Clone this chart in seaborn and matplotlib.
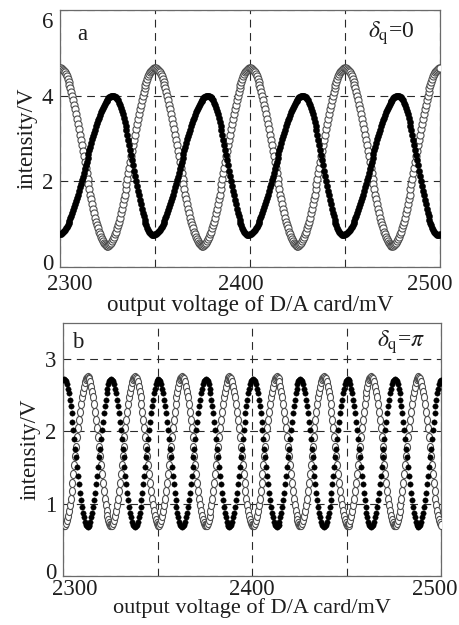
import numpy as np
import pandas as pd
import matplotlib
matplotlib.use('Agg')
import matplotlib.pyplot as plt
import matplotlib.transforms as mtransforms
from matplotlib.path import Path
import seaborn as sns

# D/A card output voltage (mV), sampled every 0.5 mV
voltage = np.arange(2300, 2500.5, 0.5)

# panel a (delta_q = 0): open circles
open_a = [
    4.65, 4.65, 4.63, 4.61, 4.58, 4.55, 4.50, 4.45, 4.39, 4.33, 4.25, 4.17, 4.09, 4.00, 3.90, 3.79, 3.69, 3.57, 3.46, 3.34, 3.22, 3.09, 2.96, 2.84, 2.71, 2.58, 2.44, 2.31, 2.19, 2.06, 1.93, 1.81, 1.69, 1.58, 1.46, 1.36, 1.25, 1.15, 1.06, 0.98, 0.90, 0.82, 0.76, 0.70, 0.65, 0.60, 0.57, 0.54, 0.52, 0.50, 0.50,
    0.50, 0.52, 0.54, 0.57, 0.60, 0.65, 0.70, 0.76, 0.82, 0.90, 0.98, 1.06, 1.15, 1.25, 1.36, 1.46, 1.58, 1.69, 1.81, 1.93, 2.06, 2.19, 2.31, 2.44, 2.58, 2.71, 2.84, 2.96, 3.09, 3.22, 3.34, 3.46, 3.57, 3.69, 3.79, 3.90, 4.00, 4.09, 4.17, 4.25, 4.33, 4.39, 4.45, 4.50, 4.55, 4.58, 4.61, 4.63, 4.65,
    4.65, 4.65, 4.63, 4.61, 4.58, 4.55, 4.50, 4.45, 4.39, 4.33, 4.25, 4.17, 4.09, 4.00, 3.90, 3.79, 3.69, 3.57, 3.46, 3.34, 3.22, 3.09, 2.96, 2.84, 2.71, 2.58, 2.44, 2.31, 2.19, 2.06, 1.93, 1.81, 1.69, 1.58, 1.46, 1.36, 1.25, 1.15, 1.06, 0.98, 0.90, 0.82, 0.76, 0.70, 0.65, 0.60, 0.57, 0.54, 0.52, 0.50, 0.50,
    0.50, 0.52, 0.54, 0.57, 0.60, 0.65, 0.70, 0.76, 0.82, 0.90, 0.98, 1.06, 1.15, 1.25, 1.36, 1.46, 1.58, 1.69, 1.81, 1.93, 2.06, 2.19, 2.31, 2.44, 2.58, 2.71, 2.84, 2.96, 3.09, 3.22, 3.34, 3.46, 3.57, 3.69, 3.79, 3.90, 4.00, 4.09, 4.17, 4.25, 4.33, 4.39, 4.45, 4.50, 4.55, 4.58, 4.61, 4.63, 4.65,
    4.65, 4.65, 4.63, 4.61, 4.58, 4.55, 4.50, 4.45, 4.39, 4.33, 4.25, 4.17, 4.09, 4.00, 3.90, 3.79, 3.69, 3.57, 3.46, 3.34, 3.22, 3.09, 2.96, 2.84, 2.71, 2.58, 2.44, 2.31, 2.19, 2.06, 1.93, 1.81, 1.69, 1.58, 1.46, 1.36, 1.25, 1.15, 1.06, 0.98, 0.90, 0.82, 0.76, 0.70, 0.65, 0.60, 0.57, 0.54, 0.52, 0.50, 0.50,
    0.50, 0.52, 0.54, 0.57, 0.60, 0.65, 0.70, 0.76, 0.82, 0.90, 0.98, 1.06, 1.15, 1.25, 1.36, 1.46, 1.58, 1.69, 1.81, 1.93, 2.06, 2.19, 2.31, 2.44, 2.58, 2.71, 2.84, 2.96, 3.09, 3.22, 3.34, 3.46, 3.57, 3.69, 3.79, 3.90, 4.00, 4.09, 4.17, 4.25, 4.33, 4.39, 4.45, 4.50, 4.55, 4.58, 4.61, 4.63, 4.65,
    4.65, 4.65, 4.63, 4.61, 4.58, 4.55, 4.50, 4.45, 4.39, 4.33, 4.25, 4.17, 4.09, 4.00, 3.90, 3.79, 3.69, 3.57, 3.46, 3.34, 3.22, 3.09, 2.96, 2.84, 2.71, 2.58, 2.44, 2.31, 2.19, 2.06, 1.93, 1.81, 1.69, 1.58, 1.46, 1.36, 1.25, 1.15, 1.06, 0.98, 0.90, 0.82, 0.76, 0.70, 0.65, 0.60, 0.57, 0.54, 0.52, 0.50, 0.50,
    0.50, 0.52, 0.54, 0.57, 0.60, 0.65, 0.70, 0.76, 0.82, 0.90, 0.98, 1.06, 1.15, 1.25, 1.36, 1.46, 1.58, 1.69, 1.81, 1.93, 2.06, 2.19, 2.31, 2.44, 2.58, 2.71, 2.84, 2.96, 3.09, 3.22, 3.34, 3.46, 3.57, 3.69, 3.79, 3.90, 4.00, 4.09, 4.17, 4.25, 4.33, 4.39, 4.45, 4.50, 4.55, 4.58, 4.61, 4.63, 4.65,
    4.65,
]

# panel a: filled dots (slow rise, faster fall)
filled_a = [
    0.76, 0.77, 0.79, 0.81, 0.84, 0.87, 0.90, 0.94, 0.98, 1.03, 1.08, 1.14, 1.20, 1.26, 1.32, 1.39, 1.46, 1.54, 1.61, 1.69, 1.77, 1.86, 1.94, 2.03, 2.11, 2.20, 2.29, 2.38, 2.46, 2.55, 2.64, 2.72, 2.81, 2.89, 2.98, 3.06, 3.14, 3.21, 3.29, 3.36, 3.43, 3.49, 3.55, 3.61, 3.67, 3.72, 3.77, 3.81, 3.85, 3.88, 3.91, 3.94, 3.96, 3.98, 3.99, 4.00,
    4.00, 4.00, 3.98, 3.96, 3.93, 3.89, 3.84, 3.78, 3.72, 3.65, 3.57, 3.48, 3.39, 3.29, 3.19, 3.08, 2.97, 2.85, 2.74, 2.62, 2.50, 2.38, 2.25, 2.13, 2.01, 1.90, 1.78, 1.67, 1.56, 1.46, 1.36, 1.27, 1.18, 1.10, 1.03, 0.97, 0.91, 0.86, 0.82, 0.79, 0.77, 0.75,
    0.75, 0.75, 0.76, 0.77, 0.79, 0.81, 0.84, 0.87, 0.90, 0.94, 0.98, 1.03, 1.08, 1.14, 1.20, 1.26, 1.32, 1.39, 1.46, 1.54, 1.61, 1.69, 1.77, 1.86, 1.94, 2.03, 2.11, 2.20, 2.29, 2.38, 2.46, 2.55, 2.64, 2.72, 2.81, 2.89, 2.98, 3.06, 3.14, 3.21, 3.29, 3.36, 3.43, 3.49, 3.55, 3.61, 3.67, 3.72, 3.77, 3.81, 3.85, 3.88, 3.91, 3.94, 3.96, 3.98, 3.99, 4.00,
    4.00, 4.00, 3.98, 3.96, 3.93, 3.89, 3.84, 3.78, 3.72, 3.65, 3.57, 3.48, 3.39, 3.29, 3.19, 3.08, 2.97, 2.85, 2.74, 2.62, 2.50, 2.38, 2.25, 2.13, 2.01, 1.90, 1.78, 1.67, 1.56, 1.46, 1.36, 1.27, 1.18, 1.10, 1.03, 0.97, 0.91, 0.86, 0.82, 0.79, 0.77, 0.75,
    0.75, 0.75, 0.76, 0.77, 0.79, 0.81, 0.84, 0.87, 0.90, 0.94, 0.98, 1.03, 1.08, 1.14, 1.20, 1.26, 1.32, 1.39, 1.46, 1.54, 1.61, 1.69, 1.77, 1.86, 1.94, 2.03, 2.11, 2.20, 2.29, 2.38, 2.46, 2.55, 2.64, 2.72, 2.81, 2.89, 2.98, 3.06, 3.14, 3.21, 3.29, 3.36, 3.43, 3.49, 3.55, 3.61, 3.67, 3.72, 3.77, 3.81, 3.85, 3.88, 3.91, 3.94, 3.96, 3.98, 3.99, 4.00,
    4.00, 4.00, 3.98, 3.96, 3.93, 3.89, 3.84, 3.78, 3.72, 3.65, 3.57, 3.48, 3.39, 3.29, 3.19, 3.08, 2.97, 2.85, 2.74, 2.62, 2.50, 2.38, 2.25, 2.13, 2.01, 1.90, 1.78, 1.67, 1.56, 1.46, 1.36, 1.27, 1.18, 1.10, 1.03, 0.97, 0.91, 0.86, 0.82, 0.79, 0.77, 0.75,
    0.75, 0.75, 0.76, 0.77, 0.79, 0.81, 0.84, 0.87, 0.90, 0.94, 0.98, 1.03, 1.08, 1.14, 1.20, 1.26, 1.32, 1.39, 1.46, 1.54, 1.61, 1.69, 1.77, 1.86, 1.94, 2.03, 2.11, 2.20, 2.29, 2.38, 2.46, 2.55, 2.64, 2.72, 2.81, 2.89, 2.98, 3.06, 3.14, 3.21, 3.29, 3.36, 3.43, 3.49, 3.55, 3.61, 3.67, 3.72, 3.77, 3.81, 3.85, 3.88, 3.91, 3.94, 3.96, 3.98, 3.99, 4.00,
    4.00, 4.00, 3.98, 3.96, 3.93, 3.89, 3.84, 3.78, 3.72, 3.65, 3.57, 3.48, 3.39, 3.29, 3.19, 3.08, 2.97, 2.85, 2.74, 2.62, 2.50, 2.38, 2.25, 2.13, 2.01, 1.90, 1.78, 1.67, 1.56, 1.46, 1.36, 1.27, 1.18, 1.10, 1.03, 0.97, 0.91, 0.86, 0.82, 0.79, 0.77, 0.75,
    0.75, 0.75, 0.76,
]

# panel b (delta_q = pi): filled dots
filled_b = [
    2.71, 2.72, 2.71, 2.69, 2.65, 2.59, 2.53, 2.44, 2.35, 2.25, 2.13, 2.02, 1.89, 1.76, 1.64, 1.51, 1.38, 1.27, 1.15, 1.05, 0.96, 0.87, 0.81, 0.75, 0.71, 0.69, 0.68,
    0.69, 0.71, 0.75, 0.81, 0.87, 0.96, 1.05, 1.15, 1.27, 1.38, 1.51, 1.64, 1.76, 1.89, 2.02, 2.13, 2.25, 2.35, 2.44, 2.53, 2.59, 2.65, 2.69,
    2.71, 2.72, 2.71, 2.69, 2.65, 2.59, 2.53, 2.44, 2.35, 2.25, 2.13, 2.02, 1.89, 1.76, 1.64, 1.51, 1.38, 1.27, 1.15, 1.05, 0.96, 0.87, 0.81, 0.75, 0.71, 0.69, 0.68,
    0.69, 0.71, 0.75, 0.81, 0.87, 0.96, 1.05, 1.15, 1.27, 1.38, 1.51, 1.64, 1.76, 1.89, 2.02, 2.13, 2.25, 2.35, 2.44, 2.53, 2.59, 2.65, 2.69,
    2.71, 2.72, 2.71, 2.69, 2.65, 2.59, 2.53, 2.44, 2.35, 2.25, 2.13, 2.02, 1.89, 1.76, 1.64, 1.51, 1.38, 1.27, 1.15, 1.05, 0.96, 0.87, 0.81, 0.75, 0.71, 0.69, 0.68,
    0.69, 0.71, 0.75, 0.81, 0.87, 0.96, 1.05, 1.15, 1.27, 1.38, 1.51, 1.64, 1.76, 1.89, 2.02, 2.13, 2.25, 2.35, 2.44, 2.53, 2.59, 2.65, 2.69,
    2.71, 2.72, 2.71, 2.69, 2.65, 2.59, 2.53, 2.44, 2.35, 2.25, 2.13, 2.02, 1.89, 1.76, 1.64, 1.51, 1.38, 1.27, 1.15, 1.05, 0.96, 0.87, 0.81, 0.75, 0.71, 0.69, 0.68,
    0.69, 0.71, 0.75, 0.81, 0.87, 0.96, 1.05, 1.15, 1.27, 1.38, 1.51, 1.64, 1.76, 1.89, 2.02, 2.13, 2.25, 2.35, 2.44, 2.53, 2.59, 2.65, 2.69,
    2.71, 2.72, 2.71, 2.69, 2.65, 2.59, 2.53, 2.44, 2.35, 2.25, 2.13, 2.02, 1.89, 1.76, 1.64, 1.51, 1.38, 1.27, 1.15, 1.05, 0.96, 0.87, 0.81, 0.75, 0.71, 0.69, 0.68,
    0.69, 0.71, 0.75, 0.81, 0.87, 0.96, 1.05, 1.15, 1.27, 1.38, 1.51, 1.64, 1.76, 1.89, 2.02, 2.13, 2.25, 2.35, 2.44, 2.53, 2.59, 2.65, 2.69,
    2.71, 2.72, 2.71, 2.69, 2.65, 2.59, 2.53, 2.44, 2.35, 2.25, 2.13, 2.02, 1.89, 1.76, 1.64, 1.51, 1.38, 1.27, 1.15, 1.05, 0.96, 0.87, 0.81, 0.75, 0.71, 0.69, 0.68,
    0.69, 0.71, 0.75, 0.81, 0.87, 0.96, 1.05, 1.15, 1.27, 1.38, 1.51, 1.64, 1.76, 1.89, 2.02, 2.13, 2.25, 2.35, 2.44, 2.53, 2.59, 2.65, 2.69,
    2.71, 2.72, 2.71, 2.69, 2.65, 2.59, 2.53, 2.44, 2.35, 2.25, 2.13, 2.02, 1.89, 1.76, 1.64, 1.51, 1.38, 1.27, 1.15, 1.05, 0.96, 0.87, 0.81, 0.75, 0.71, 0.69, 0.68,
    0.69, 0.71, 0.75, 0.81, 0.87, 0.96, 1.05, 1.15, 1.27, 1.38, 1.51, 1.64, 1.76, 1.89, 2.02, 2.13, 2.25, 2.35, 2.44, 2.53, 2.59, 2.65, 2.69,
    2.71, 2.72, 2.71, 2.69, 2.65, 2.59, 2.53, 2.44, 2.35, 2.25, 2.13, 2.02, 1.89, 1.76, 1.64, 1.51, 1.38, 1.27, 1.15, 1.05, 0.96, 0.87, 0.81, 0.75, 0.71, 0.69, 0.68,
    0.69, 0.71, 0.75, 0.81, 0.87, 0.96, 1.05, 1.15, 1.27, 1.38, 1.51, 1.64, 1.76, 1.89, 2.02, 2.13, 2.25, 2.35, 2.44, 2.53, 2.59, 2.65, 2.69,
    2.71,
]

# panel b: open circles (anti-phase)
open_b = [
    0.71, 0.70, 0.71, 0.73, 0.77, 0.83, 0.90, 0.98, 1.07, 1.18, 1.29, 1.41, 1.53, 1.66, 1.79, 1.92, 2.04, 2.16, 2.27, 2.38, 2.47, 2.55, 2.62, 2.68, 2.72, 2.74, 2.75,
    2.74, 2.72, 2.68, 2.62, 2.55, 2.47, 2.38, 2.27, 2.16, 2.04, 1.92, 1.79, 1.66, 1.53, 1.41, 1.29, 1.18, 1.07, 0.98, 0.90, 0.83, 0.77, 0.73,
    0.71, 0.70, 0.71, 0.73, 0.77, 0.83, 0.90, 0.98, 1.07, 1.18, 1.29, 1.41, 1.53, 1.66, 1.79, 1.92, 2.04, 2.16, 2.27, 2.38, 2.47, 2.55, 2.62, 2.68, 2.72, 2.74, 2.75,
    2.74, 2.72, 2.68, 2.62, 2.55, 2.47, 2.38, 2.27, 2.16, 2.04, 1.92, 1.79, 1.66, 1.53, 1.41, 1.29, 1.18, 1.07, 0.98, 0.90, 0.83, 0.77, 0.73,
    0.71, 0.70, 0.71, 0.73, 0.77, 0.83, 0.90, 0.98, 1.07, 1.18, 1.29, 1.41, 1.53, 1.66, 1.79, 1.92, 2.04, 2.16, 2.27, 2.38, 2.47, 2.55, 2.62, 2.68, 2.72, 2.74, 2.75,
    2.74, 2.72, 2.68, 2.62, 2.55, 2.47, 2.38, 2.27, 2.16, 2.04, 1.92, 1.79, 1.66, 1.53, 1.41, 1.29, 1.18, 1.07, 0.98, 0.90, 0.83, 0.77, 0.73,
    0.71, 0.70, 0.71, 0.73, 0.77, 0.83, 0.90, 0.98, 1.07, 1.18, 1.29, 1.41, 1.53, 1.66, 1.79, 1.92, 2.04, 2.16, 2.27, 2.38, 2.47, 2.55, 2.62, 2.68, 2.72, 2.74, 2.75,
    2.74, 2.72, 2.68, 2.62, 2.55, 2.47, 2.38, 2.27, 2.16, 2.04, 1.92, 1.79, 1.66, 1.53, 1.41, 1.29, 1.18, 1.07, 0.98, 0.90, 0.83, 0.77, 0.73,
    0.71, 0.70, 0.71, 0.73, 0.77, 0.83, 0.90, 0.98, 1.07, 1.18, 1.29, 1.41, 1.53, 1.66, 1.79, 1.92, 2.04, 2.16, 2.27, 2.38, 2.47, 2.55, 2.62, 2.68, 2.72, 2.74, 2.75,
    2.74, 2.72, 2.68, 2.62, 2.55, 2.47, 2.38, 2.27, 2.16, 2.04, 1.92, 1.79, 1.66, 1.53, 1.41, 1.29, 1.18, 1.07, 0.98, 0.90, 0.83, 0.77, 0.73,
    0.71, 0.70, 0.71, 0.73, 0.77, 0.83, 0.90, 0.98, 1.07, 1.18, 1.29, 1.41, 1.53, 1.66, 1.79, 1.92, 2.04, 2.16, 2.27, 2.38, 2.47, 2.55, 2.62, 2.68, 2.72, 2.74, 2.75,
    2.74, 2.72, 2.68, 2.62, 2.55, 2.47, 2.38, 2.27, 2.16, 2.04, 1.92, 1.79, 1.66, 1.53, 1.41, 1.29, 1.18, 1.07, 0.98, 0.90, 0.83, 0.77, 0.73,
    0.71, 0.70, 0.71, 0.73, 0.77, 0.83, 0.90, 0.98, 1.07, 1.18, 1.29, 1.41, 1.53, 1.66, 1.79, 1.92, 2.04, 2.16, 2.27, 2.38, 2.47, 2.55, 2.62, 2.68, 2.72, 2.74, 2.75,
    2.74, 2.72, 2.68, 2.62, 2.55, 2.47, 2.38, 2.27, 2.16, 2.04, 1.92, 1.79, 1.66, 1.53, 1.41, 1.29, 1.18, 1.07, 0.98, 0.90, 0.83, 0.77, 0.73,
    0.71, 0.70, 0.71, 0.73, 0.77, 0.83, 0.90, 0.98, 1.07, 1.18, 1.29, 1.41, 1.53, 1.66, 1.79, 1.92, 2.04, 2.16, 2.27, 2.38, 2.47, 2.55, 2.62, 2.68, 2.72, 2.74, 2.75,
    2.74, 2.72, 2.68, 2.62, 2.55, 2.47, 2.38, 2.27, 2.16, 2.04, 1.92, 1.79, 1.66, 1.53, 1.41, 1.29, 1.18, 1.07, 0.98, 0.90, 0.83, 0.77, 0.73,
    0.71,
]

x_ticks = [2300, 2350, 2400, 2450, 2500]
x_ticklabels = ['2300', '', '2400', '', '2500']
y_ticks_a = [0, 2, 4, 6]
y_ticks_b = [0, 1, 2, 3]

sns.set_theme(style='white')
plt.rcParams['font.family'] = ['Liberation Serif', 'DejaVu Serif']
plt.rcParams['mathtext.fontset'] = 'stix'

df_a = pd.DataFrame({'voltage': voltage, 'open': open_a, 'filled': filled_a})
df_b = pd.DataFrame({'voltage': voltage, 'open': open_b, 'filled': filled_b})

# slightly tall ellipse used for the open markers of panel b
_circ = Path.unit_circle()
tall_ring = Path(_circ.vertices * [1.0, 1.35], _circ.codes)

fig = plt.figure(figsize=(4.6, 6.25), dpi=100)
ax_a = fig.add_axes([0.1304, 0.5728, 0.826, 0.4112])
ax_b = fig.add_axes([0.137, 0.0785, 0.822, 0.4048])

FS = 16.5
TXT = '#1e1e1e'


def shift(label, dx, dy):
    label.set_transform(label.get_transform() +
                        mtransforms.ScaledTranslation(dx / 100, dy / 100, fig.dpi_scale_trans))


def style_axis(ax, yticks, ylim, xshift, xpad, xlabelpad, xlabel_fs):
    ax.set_xlim(2300, 2500)
    ax.set_ylim(*ylim)
    ax.set_xticks(x_ticks)
    ax.set_xticklabels(x_ticklabels)
    ax.set_yticks(yticks)
    ax.set_yticklabels([str(t) for t in yticks])
    ax.tick_params(length=0, labelsize=FS, pad=5, colors=TXT)
    ax.tick_params(axis='x', pad=xpad)
    ax.grid(True, color='#2a2a2a', linestyle=(0, (7, 5)), linewidth=0.8)
    for sp in ax.spines.values():
        sp.set_color('#6a6a6a')
        sp.set_linewidth(0.9)
    ax.set_xlabel('output voltage of D/A card/mV', fontsize=xlabel_fs,
                  labelpad=xlabelpad, color=TXT)
    ax.set_ylabel('intensity/V', fontsize=FS, labelpad=3, color=TXT)
    # nudge the x tick labels like in the scanned figure
    for lab, dx in zip([l for l in ax.get_xticklabels() if l.get_text()], xshift):
        shift(lab, dx, 0)
    # lowest y label sits just above the x axis
    ylabs = ax.get_yticklabels()
    ylabs[0].set_va('bottom')
    shift(ylabs[0], 0, -8)
    return ylabs


# panel a
sns.scatterplot(data=df_a, x='voltage', y='open', ax=ax_a, marker='o', s=26,
                facecolor='white', edgecolor='#4d4d4d', linewidth=0.8, zorder=3)
sns.scatterplot(data=df_a, x='voltage', y='filled', ax=ax_a, marker='o', s=20,
                color='black', edgecolor='black', linewidth=0.3, zorder=4)
ylabs = style_axis(ax_a, y_ticks_a, (0, 6), [10, -9, -10], 5, 0, FS)
ylabs[-1].set_va('top')
shift(ylabs[-1], 0, -2)
ax_a.text(2309, 5.42, 'a', fontsize=FS, color=TXT, va='center')
ax_a.text(2462, 5.45, r'$\delta_{\mathrm{q}}$=0', fontsize=17, color=TXT, va='center')

# panel b
sns.scatterplot(data=df_b, x='voltage', y='open', ax=ax_b, marker=tall_ring, s=34,
                facecolor='white', edgecolor='#4d4d4d', linewidth=0.8, zorder=3)
sns.scatterplot(data=df_b, x='voltage', y='filled', ax=ax_b, marker='o', s=15,
                color='black', edgecolor='black', linewidth=0.3, zorder=4)
style_axis(ax_b, y_ticks_b, (0, 3.5), [12, 0, -6], 2, -1, 16)
ax_b.text(2305, 3.23, 'b', fontsize=FS, color=TXT, va='center')
ax_b.text(2466, 3.23, r'$\delta_{\mathrm{q}}$=$\pi$', fontsize=17, color=TXT, va='center')

fig.savefig('out.png', dpi=100)
